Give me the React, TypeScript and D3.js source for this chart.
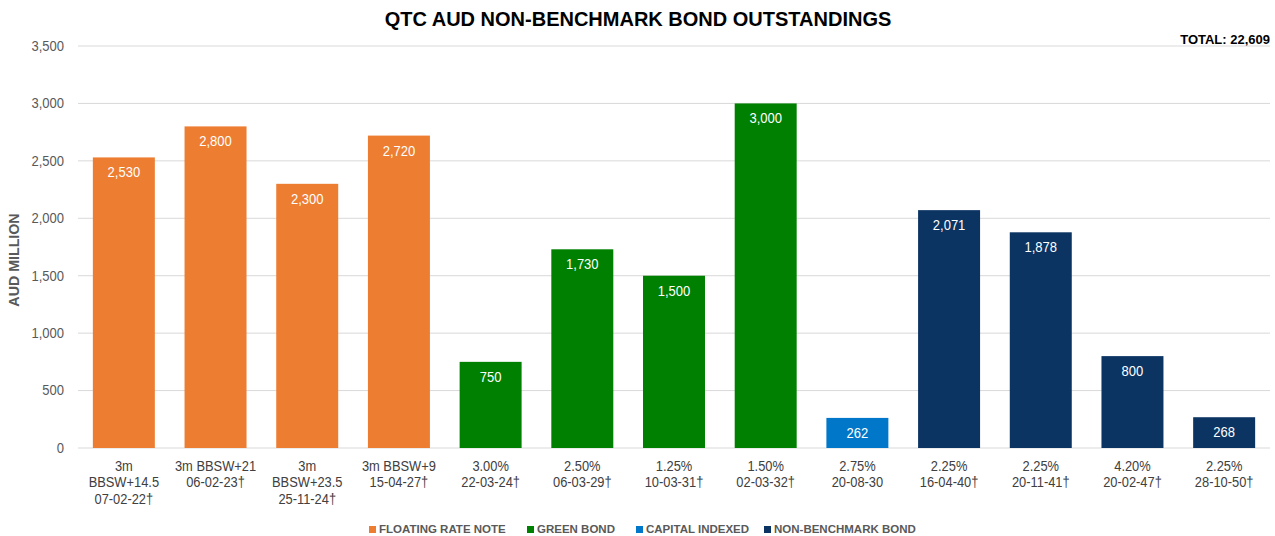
import React, { useEffect, useRef } from "react";
import * as d3 from "d3";

const labels: string[][] = [
  ["3m", "BBSW+14.5", "07-02-22†"],
  ["3m BBSW+21", "06-02-23†"],
  ["3m", "BBSW+23.5", "25-11-24†"],
  ["3m BBSW+9", "15-04-27†"],
  ["3.00%", "22-03-24†"],
  ["2.50%", "06-03-29†"],
  ["1.25%", "10-03-31†"],
  ["1.50%", "02-03-32†"],
  ["2.75%", "20-08-30"],
  ["2.25%", "16-04-40†"],
  ["2.25%", "20-11-41†"],
  ["4.20%", "20-02-47†"],
  ["2.25%", "28-10-50†"],
];
const values = [2530, 2800, 2300, 2720, 750, 1730, 1500, 3000, 262, 2071, 1878, 800, 268];
const types = ["frn", "frn", "frn", "frn", "green", "green", "green", "green", "cib", "nb", "nb", "nb", "nb"];

const seriesKeys = ["frn", "green", "cib", "nb"];
const seriesNames = ["FLOATING RATE NOTE", "GREEN BOND", "CAPITAL INDEXED", "NON-BENCHMARK BOND"];
const seriesColors = ["#ED7D31", "#008000", "#0077C8", "#0B3463"];

const yTicks = [0, 500, 1000, 1500, 2000, 2500, 3000, 3500];

const FONT = "'Liberation Sans', Arial, sans-serif";

const App = () => {
  const svgRef = useRef<SVGSVGElement>(null);

  useEffect(() => {
    const width = 1275,
      height = 536;
    const margin = { top: 46, right: 5, bottom: 88, left: 78 };

    const svg = d3.select(svgRef.current);
    svg.selectAll("*").remove();
    svg.attr("width", width).attr("height", height);

    const idx = values.map((_, i) => String(i));
    const x = d3
      .scaleBand()
      .domain(idx)
      .range([margin.left, width - margin.right])
      .paddingInner(0.324)
      .paddingOuter(0.162);
    const y = d3.scaleLinear().domain([0, 3500]).range([height - margin.bottom, margin.top]);
    const color = d3.scaleOrdinal<string, string>().domain(seriesKeys).range(seriesColors);

    // title
    svg
      .append("text")
      .attr("x", 638)
      .attr("y", 26)
      .attr("text-anchor", "middle")
      .attr("font-family", FONT)
      .attr("font-weight", "bold")
      .attr("font-size", 20)
      .attr("fill", "#000")
      .text("QTC AUD NON-BENCHMARK BOND OUTSTANDINGS");

    svg
      .append("text")
      .attr("x", 1270)
      .attr("y", 44)
      .attr("text-anchor", "end")
      .attr("font-family", FONT)
      .attr("font-weight", "bold")
      .attr("font-size", 13)
      .attr("fill", "#000")
      .text("TOTAL: 22,609");

    // gridlines + y ticks
    const grid = svg.append("g");
    grid
      .selectAll("line")
      .data(yTicks)
      .enter()
      .append("line")
      .attr("x1", margin.left)
      .attr("x2", width - margin.right)
      .attr("y1", (d) => y(d))
      .attr("y2", (d) => y(d))
      .attr("stroke", "#D9D9D9")
      .attr("stroke-width", 1);

    grid
      .selectAll("text")
      .data(yTicks)
      .enter()
      .append("text")
      .attr("transform", (d) => `translate(64, ${y(d)}) scale(0.93, 1)`)
      .attr("dy", "0.35em")
      .attr("text-anchor", "end")
      .attr("font-family", FONT)
      .attr("font-size", 14)
      .attr("fill", "#595959")
      .text((d) => d3.format(",")(d));

    svg
      .append("text")
      .attr("transform", `translate(19, 260) rotate(-90) scale(0.95, 1)`)
      .attr("text-anchor", "middle")
      .attr("font-family", FONT)
      .attr("font-weight", "bold")
      .attr("font-size", 15)
      .attr("fill", "#595959")
      .text("AUD MILLION");

    // bars
    const bars = svg.append("g");
    bars
      .selectAll("rect")
      .data(values)
      .enter()
      .append("rect")
      .attr("x", (_, i) => x(String(i))!)
      .attr("y", (d) => y(d))
      .attr("width", x.bandwidth())
      .attr("height", (d) => y(0) - y(d))
      .attr("fill", (_, i) => color(types[i]));

    bars
      .selectAll("text")
      .data(values)
      .enter()
      .append("text")
      .attr("transform", (d, i) => `translate(${x(String(i))! + x.bandwidth() / 2}, ${y(d) + 20}) scale(0.93, 1)`)
      .attr("text-anchor", "middle")
      .attr("font-family", FONT)
      .attr("font-size", 14)
      .attr("fill", "#fff")
      .text((d) => d3.format(",")(d));

    // x labels
    const xl = svg.append("g");
    labels.forEach((lines, i) => {
      const t = xl
        .append("text")
        .attr("transform", `translate(${x(String(i))! + x.bandwidth() / 2}, 471) scale(0.92, 1)`)
        .attr("text-anchor", "middle")
        .attr("font-family", FONT)
        .attr("font-size", 14)
        .attr("fill", "#404040");
      lines.forEach((l, j) => {
        t.append("tspan")
          .attr("x", 0)
          .attr("dy", j === 0 ? 0 : 16.5)
          .text(l);
      });
    });

    // legend
    const legendX = [369, 527, 636, 764];
    const legend = svg.append("g");
    seriesKeys.forEach((k, i) => {
      legend
        .append("rect")
        .attr("x", legendX[i])
        .attr("y", 526)
        .attr("width", 7)
        .attr("height", 7)
        .attr("fill", color(k));
      legend
        .append("text")
        .attr("x", legendX[i] + 10)
        .attr("y", 533)
        .attr("font-family", FONT)
        .attr("font-weight", "bold")
        .attr("font-size", 11.5)
        .attr("fill", "#595959")
        .text(seriesNames[i]);
    });
  }, []);

  return (
    <div style={{ position: "absolute", left: 0, top: 0 }}>
      <svg ref={svgRef} style={{ display: "block" }}></svg>
    </div>
  );
};

export default App;
